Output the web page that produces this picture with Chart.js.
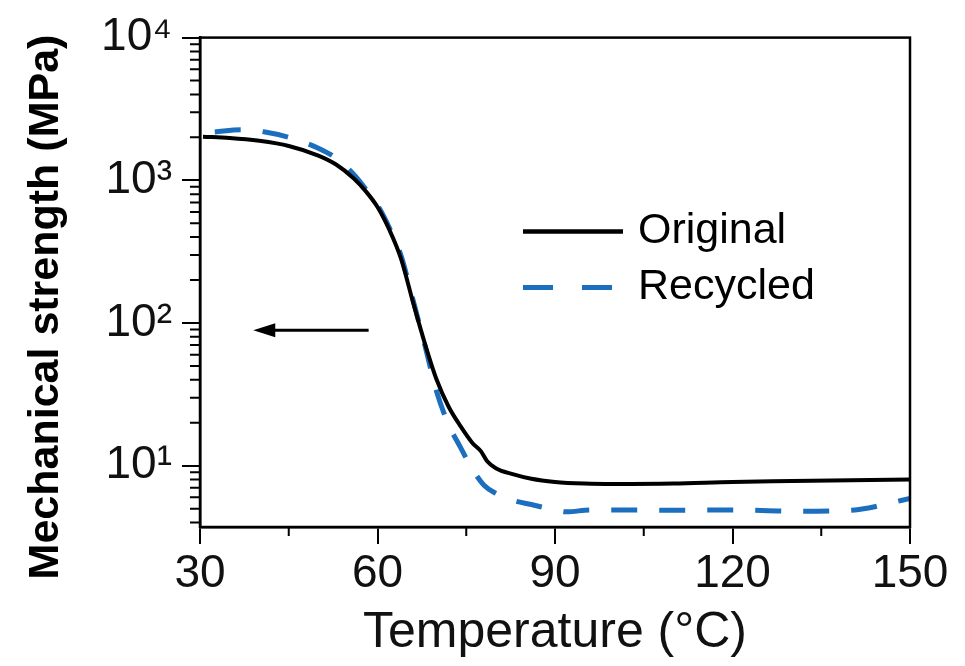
<!DOCTYPE html>
<html>
<head>
<meta charset="utf-8">
<script src="https://cdn.jsdelivr.net/npm/chart.js@4.4.0/dist/chart.umd.min.js"></script>
<style>
  html, body { margin: 0; padding: 0; background: #fff; }
  #wrap { width: 965px; height: 666px; }
</style>
</head>
<body>
<div id="wrap"><canvas id="chartStrength"></canvas></div>
<script>
// values (temperature in °C, strength in MPa)
const tempOriginal = [30.5, 35, 40, 45, 50, 53, 56, 58, 60, 62, 64, 66, 68, 70, 72, 74, 76, 77.5, 78.5, 80, 83, 86, 90, 95, 100, 110, 120, 130, 140, 150];
const strengthOriginal = [2020, 1980, 1890, 1740, 1490, 1290, 1030, 840, 650, 450, 280, 140, 72, 40, 26, 19, 14.5, 12.6, 10.8, 9.6, 8.7, 8.1, 7.7, 7.5, 7.45, 7.5, 7.7, 7.8, 7.9, 8.0];
const tempRecycled = [32.5, 37, 41, 45, 50, 53, 56, 58, 60, 62, 64, 66, 68, 70, 72, 74, 76, 78, 80, 83, 86, 89, 92, 96, 100, 110, 120, 130, 140, 143, 146, 150];
const strengthRecycled = [2180, 2260, 2180, 2000, 1680, 1430, 1100, 870, 670, 465, 295, 145, 70, 33, 19.5, 13.5, 9.5, 7.3, 6.4, 5.7, 5.35, 5.0, 4.75, 4.9, 4.9, 4.88, 4.9, 4.8, 4.87, 5.05, 5.4, 5.9];

const xTicks = [30, 60, 90, 120, 150];
const xMinorTicks = [45, 75, 105, 135];
const yTicks = [10, 100, 1000, 10000];
const yTickLabels = ['10¹', '10²', '10³', '10⁴'];

const arrowTemps = [58.5, 39];   // tail -> head
const arrowStrength = 89;

const blue = '#1c6ebe';
const fontFamily = '"Liberation Sans", Arial, sans-serif';

const toPoints = (xs, ys) => xs.map((x, i) => ({ x: x, y: ys[i] }));

const extras = {
    id: 'extras',
    afterDraw(chart) {
        const { ctx, chartArea: a, scales: { x, y } } = chart;
        ctx.save();
        ctx.strokeStyle = '#000';
        ctx.fillStyle = '#000';

        // frame
        ctx.lineWidth = 2.5;
        ctx.strokeRect(a.left, a.top, a.right - a.left, a.bottom - a.top);

        // minor ticks
        ctx.lineWidth = 2;
        ctx.beginPath();
        xMinorTicks.forEach(t => {
            const px = x.getPixelForValue(t);
            ctx.moveTo(px, a.bottom);
            ctx.lineTo(px, a.bottom + 9);
        });
        for (let d = 1; d <= 1000; d *= 10) {
            for (let m = 2; m <= 9; m++) {
                const v = m * d;
                if (v < y.min) continue;
                const py = y.getPixelForValue(v);
                ctx.moveTo(a.left, py);
                ctx.lineTo(a.left - 10, py);
            }
        }
        ctx.stroke();

        // arrow pointing to the left axis
        const ax0 = x.getPixelForValue(arrowTemps[0]);
        const ax1 = x.getPixelForValue(arrowTemps[1]);
        const ay = y.getPixelForValue(arrowStrength);
        ctx.lineWidth = 3;
        ctx.beginPath();
        ctx.moveTo(ax0, ay);
        ctx.lineTo(ax1 + 12, ay);
        ctx.stroke();
        ctx.beginPath();
        ctx.moveTo(ax1, ay);
        ctx.lineTo(ax1 + 22, ay - 7);
        ctx.lineTo(ax1 + 22, ay + 7);
        ctx.closePath();
        ctx.fill();

        // legend
        const lx = a.left + 323, ly = a.top + 194;
        ctx.lineWidth = 4.5;
        ctx.beginPath();
        ctx.moveTo(lx, ly);
        ctx.lineTo(lx + 100, ly);
        ctx.stroke();
        ctx.strokeStyle = blue;
        ctx.lineWidth = 5;
        ctx.setLineDash([30, 29]);
        ctx.beginPath();
        ctx.moveTo(lx, ly + 56);
        ctx.lineTo(lx + 100, ly + 56);
        ctx.stroke();
        ctx.setLineDash([]);
        ctx.font = '43px ' + fontFamily;
        ctx.textBaseline = 'middle';
        ctx.textAlign = 'left';
        ctx.fillText('Original', lx + 115, ly);
        ctx.fillText('Recycled', lx + 115, ly + 56);

        // y axis title
        ctx.translate(46, 307);
        ctx.rotate(-Math.PI / 2);
        ctx.textAlign = 'center';
        ctx.font = 'bold 43px ' + fontFamily;
        ctx.fillText('Mechanical strength (MPa)', 0, 0);
        ctx.restore();
    }
};

const ctx = document.getElementById('chartStrength').getContext('2d');
new Chart(ctx, {
    type: 'line',
    data: {
        datasets: [{
            label: 'Original',
            data: toPoints(tempOriginal, strengthOriginal),
            borderColor: '#000',
            borderWidth: 4,
            pointRadius: 0,
            cubicInterpolationMode: 'monotone',
            fill: false
        }, {
            label: 'Recycled',
            data: toPoints(tempRecycled, strengthRecycled),
            borderColor: blue,
            borderWidth: 5,
            borderDash: [26, 22],
            pointRadius: 0,
            cubicInterpolationMode: 'monotone',
            fill: false
        }]
    },
    options: {
        responsive: true,
        maintainAspectRatio: false,
        animation: false,
        layout: { padding: { top: 32, right: 55, left: 0, bottom: 0 } },
        plugins: {
            legend: { display: false },
            tooltip: { enabled: false }
        },
        scales: {
            x: {
                type: 'linear',
                min: 30,
                max: 150,
                afterBuildTicks: s => { s.ticks = xTicks.map(v => ({ value: v })); },
                afterFit: s => { s.height = 139; },
                grid: { drawOnChartArea: false, color: '#000', lineWidth: 2, tickLength: 17 },
                border: { display: true, color: '#000', width: 2.5 },
                ticks: {
                    color: '#111',
                    padding: 3,
                    maxRotation: 0,
                    font: { family: fontFamily, size: 46 }
                },
                title: {
                    display: true,
                    text: 'Temperature (°C)',
                    color: '#111',
                    padding: { top: 0, bottom: 3 },
                    font: { family: fontFamily, size: 50 }
                }
            },
            y: {
                type: 'logarithmic',
                min: 3.72,
                max: 10000,
                afterBuildTicks: s => { s.ticks = yTicks.map(v => ({ value: v })); },
                afterFit: s => { s.width = 200; },
                grid: { drawOnChartArea: false, color: '#000', lineWidth: 2, tickLength: 18 },
                border: { display: true, color: '#000', width: 2.5 },
                ticks: {
                    color: '#111',
                    padding: 10,
                    font: { family: fontFamily, size: 46 },
                    callback: (v) => {
                        const i = yTicks.indexOf(v);
                        return i >= 0 ? yTickLabels[i] : '';
                    }
                }
            }
        }
    },
    plugins: [extras]
});
</script>
</body>
</html>
